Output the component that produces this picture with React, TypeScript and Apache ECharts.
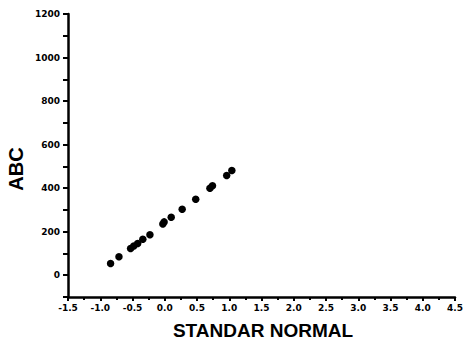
import React, { useEffect, useRef } from "react";
import * as echarts from "echarts";

const xValues = [-0.84, -0.71, -0.53, -0.48, -0.42, -0.34, -0.23, -0.03, -0.01, 0.10, 0.27, 0.48, 0.70, 0.74, 0.96, 1.04];
const yValues = [54, 85, 123, 134, 146, 165, 186, 235, 245, 266, 303, 349, 400, 411, 458, 481];
const xAxisName = "STANDAR NORMAL";
const yAxisName = "ABC";

export default function App() {
  const ref = useRef<HTMLDivElement>(null);
  useEffect(() => {
    if (!ref.current) return;
    const chart = echarts.init(ref.current, null, { renderer: "svg" });
    const font = "'Liberation Sans', Arial, sans-serif";
    const tickFont = "'DejaVu Sans', sans-serif";
    chart.setOption({
      animation: false,
      backgroundColor: "#ffffff",
      grid: { left: 68, right: 8, top: 14, bottom: 47, containLabel: false },
      graphic: [
        {
          type: "text",
          x: 263,
          y: 330,
          style: {
            text: xAxisName,
            fontFamily: font,
            fontSize: 19,
            fontWeight: "bold",
            fill: "#000",
            align: "center",
            verticalAlign: "middle",
          },
        },
        {
          type: "text",
          x: 16,
          y: 169,
          rotation: Math.PI / 2,
          style: {
            text: yAxisName,
            fontFamily: font,
            fontSize: 20,
            fontWeight: "bold",
            fill: "#000",
            align: "center",
            verticalAlign: "middle",
          },
        },
      ],
      xAxis: {
        type: "value",
        min: -1.5,
        max: 4.5,
        interval: 0.5,
        axisLine: { show: true, onZero: false, lineStyle: { color: "#000", width: 2.5 } },
        axisTick: { show: true, length: 4, lineStyle: { color: "#000", width: 2 } },
        minorTick: { show: true, splitNumber: 2, length: 3, lineStyle: { color: "#000", width: 2 } },
        splitLine: { show: false },
        minorSplitLine: { show: false },
        axisLabel: {
          margin: 6,
          fontFamily: tickFont,
          fontSize: 9,
          fontWeight: "bold",
          color: "#000",
          formatter: (v: number) => v.toFixed(1),
        },
      },
      yAxis: {
        type: "value",
        min: -100,
        max: 1200,
        interval: 100,
        axisLine: { show: true, onZero: false, lineStyle: { color: "#000", width: 2.5 } },
        axisTick: { show: true, length: 5, lineStyle: { color: "#000", width: 2 } },
        splitLine: { show: false },
        axisLabel: {
          margin: 8,
          fontFamily: tickFont,
          fontSize: 9,
          fontWeight: "bold",
          color: "#000",
          formatter: (v: number) => (v >= 0 && v % 200 === 0 ? String(v) : ""),
        },
      },
      series: [
        {
          type: "scatter",
          symbol: "circle",
          symbolSize: 7.5,
          itemStyle: { color: "#000", opacity: 1 },
          data: xValues.map((x, i) => [x, yValues[i]]),
        },
      ],
    });
    return () => chart.dispose();
  }, []);
  return <div ref={ref} style={{ width: 466, height: 344, position: "absolute", left: 0, top: 0 }} />;
}
